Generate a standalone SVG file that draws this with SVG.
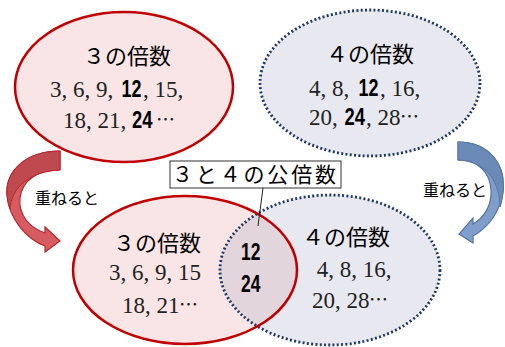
<svg xmlns="http://www.w3.org/2000/svg" width="505" height="347" viewBox="0 0 505 347">
<defs>
<style>
.red{fill:#FAE5E6;stroke:#C00000;stroke-width:2.5}
.blue{fill:#E8E9F0;stroke:#1F3864;stroke-width:2.8;stroke-dasharray:2 2.3}
.ttl{font-family:"Noto Sans CJK JP",sans-serif;font-size:22px;fill:#000;text-anchor:middle}
.num{font-family:"Liberation Serif",serif;font-size:23px;fill:#222}
.numc{font-family:"Liberation Serif",serif;font-size:23px;fill:#222;text-anchor:middle}
.b{font-family:"Liberation Sans",sans-serif;font-weight:bold;font-size:23px;fill:#000}
.el{font-family:"Noto Sans CJK JP",sans-serif;font-size:19px;fill:#222}
.lab{font-family:"Noto Sans CJK JP",sans-serif;font-size:16px;fill:#000}
</style>
<clipPath id="clipRed"><ellipse cx="185" cy="270" rx="112" ry="74"/></clipPath>
</defs>

<g id="top-3">
<ellipse class="red" cx="124" cy="87" rx="109" ry="75"/>
<text class="ttl" x="127" y="64">３の倍数</text>
<text class="num" x="50" y="97">3, 6, 9,</text>
<text class="b" transform="translate(121.5,97) scale(0.78,1)">12</text>
<text class="num" x="143" y="97">, 15,</text>
<text class="num" x="63" y="128">18, 21,</text>
<text class="b" transform="translate(132,128) scale(0.8,1)">24</text>
<text class="el" x="156" y="127">…</text>
</g>

<g id="top-4">
<ellipse class="blue" cx="370" cy="83" rx="110" ry="73"/>
<text class="ttl" x="370" y="62">４の倍数</text>
<text class="num" x="309" y="96">4, 8,</text>
<text class="b" transform="translate(358.5,96) scale(0.78,1)">12</text>
<text class="num" x="380" y="96">, 16,</text>
<text class="num" x="309" y="125">20,</text>
<text class="b" transform="translate(344.5,125) scale(0.8,1)">24</text>
<text class="num" x="366" y="125">, 28</text>
<text class="el" x="400" y="124">…</text>
</g>

<g id="bottom-venn">
<ellipse cx="330" cy="270" rx="110" ry="75" fill="#E8E9F0"/>
<ellipse cx="185" cy="270" rx="112" ry="74" fill="#FAE5E6"/>
<ellipse cx="330" cy="270" rx="110" ry="75" fill="#E3D5DC" clip-path="url(#clipRed)"/>
<ellipse cx="330" cy="270" rx="110" ry="75" fill="none" stroke="#1F3864" stroke-width="2.8" stroke-dasharray="2 2.3"/>
<ellipse cx="185" cy="270" rx="112" ry="74" fill="none" stroke="#C00000" stroke-width="2.5"/>
</g>

<g id="bottom-3">
<text class="ttl" x="157" y="251">３の倍数</text>
<text class="numc" x="155" y="280">3, 6, 9, 15</text>
<text class="num" x="122" y="313">18, 21</text>
<text class="el" x="179" y="312">…</text>
</g>

<g id="bottom-4">
<text class="ttl" x="346" y="245">４の倍数</text>
<text class="numc" x="354" y="277">4, 8, 16,</text>
<text class="num" x="312" y="308">20, 28</text>
<text class="el" x="369" y="307">…</text>
</g>

<g id="common">
<text class="b" transform="translate(241,260) scale(0.76,1)" font-size="25">12</text>
<text class="b" transform="translate(241,292) scale(0.76,1)" font-size="25">24</text>
</g>

<g id="label">
<rect x="170" y="161" width="171" height="27" fill="#fff" stroke="#333" stroke-width="1"/>
<text x="172" y="182" font-family="Noto Sans CJK JP,sans-serif" font-size="21" textLength="164" lengthAdjust="spacing">３と４の公倍数</text>
</g>

<g id="connectors">
<line x1="263" y1="188" x2="258" y2="226" stroke="#222" stroke-width="1"/>
<path d="M60,151 C25,151 5,172 7,195 C9,220 28,240 45,246 L45,252 L60,241 L45,227 L45,233 C30,228 18,215 20,198 C22,180 38,170 60,170 Z" fill="#D65C61" stroke="#B8262C" stroke-width="1.2"/>
<path d="M60,151 C25,151 5,172 7,195 C7.5,200 8.5,205 10,209 C11,188 30,171 60,170 Z" fill="#BE4A50" stroke="#B8262C" stroke-width="1"/>
<path d="M458,142 C490,142 506,165 503,192 C500,212 488,228 473,236 L473,243 L459,234 L473,218 L473,224 C484,218 492,205 491,190 C490,172 478,160 458,160 Z" fill="#819ECA" stroke="#5274A6" stroke-width="1.2"/>
<path d="M458,142 C490,142 506,165 503,192 C502.5,198 501.5,203 500,207 C500,184 488,161 458,160 Z" fill="#6C8AB8" stroke="#5274A6" stroke-width="1"/>
<text class="lab" x="35" y="204">重ねると</text>
<text class="lab" x="423" y="196">重ねると</text>
</g>
</svg>
